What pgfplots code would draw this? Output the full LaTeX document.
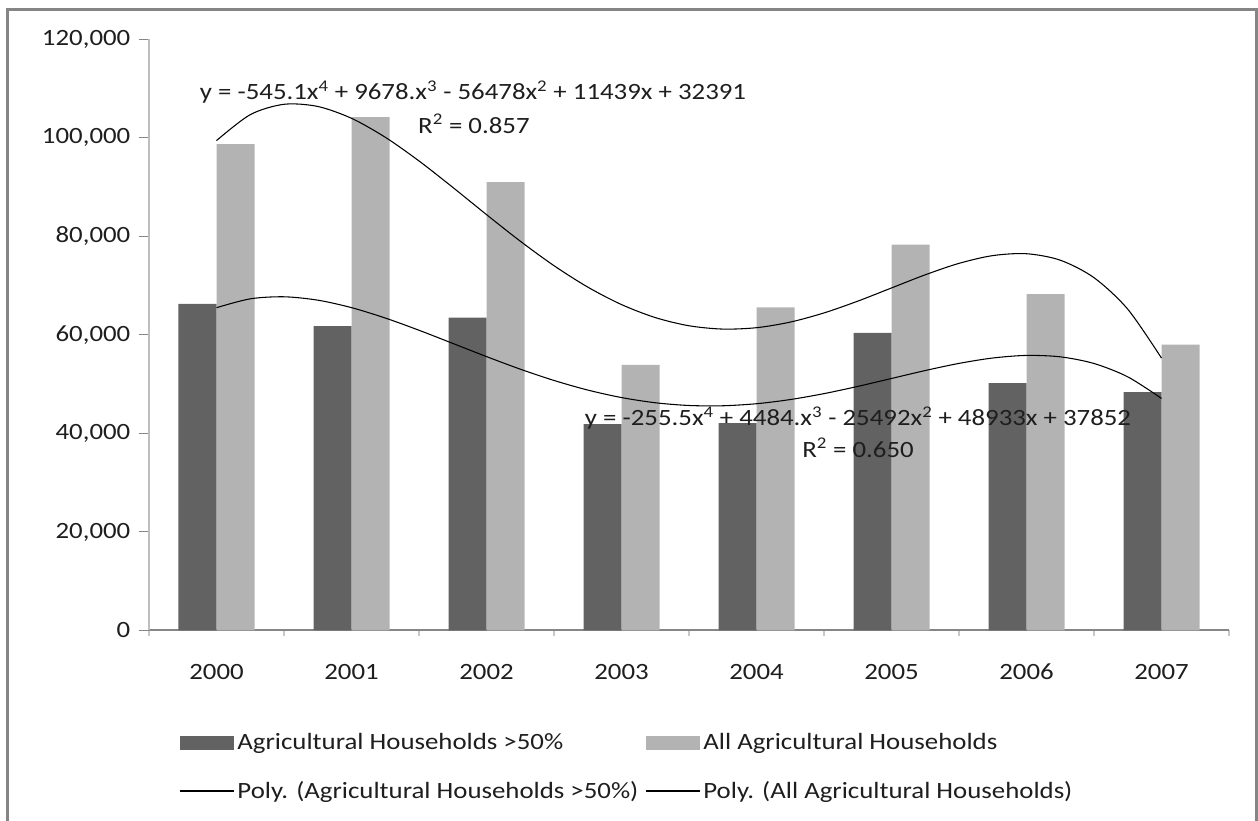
\documentclass[border=0pt]{standalone}
\usepackage{pgfplots}
\usepackage{pgfplotstable}
\pgfplotsset{compat=1.18}
\usepackage{fontspec}
\setmainfont{Carlito}[FakeStretch=1.15]
\definecolor{darkbar}{HTML}{626262}
\definecolor{lightbar}{HTML}{B3B3B3}
\definecolor{axisgray}{HTML}{868686}
\definecolor{yaxisgray}{HTML}{BEBEBE}
\definecolor{framegray}{HTML}{858585}
\definecolor{tickgray}{HTML}{C8C8C8}
\definecolor{txt}{HTML}{1E1E1E}

\pgfplotstableread{
x agri all
1 66300 98700
2 61800 104200
3 63500 91000
4 41900 53900
5 42100 65600
6 60400 78300
7 50200 68300
8 48400 58000
}\bardata

\begin{document}
\begin{tikzpicture}[font=\fontsize{17.5}{21}\selectfont]
\useasboundingbox (0,0) rectangle (943.5pt,615.75pt);
\draw[framegray, line width=2.25pt] (5.25pt,-3pt) -- (5.25pt,608.25pt) -- (942pt,608.25pt) -- (942pt,-3pt);
\begin{axis}[
  at={(111.75pt,142.875pt)}, anchor=south west,
  scale only axis, width=810pt, height=443.4pt,
  xmin=0.5, xmax=8.5, ymin=0, ymax=120000,
  clip=false,
  axis lines*=left,
  x axis line style={axisgray, line width=1.5pt},
  y axis line style={yaxisgray, line width=1.5pt},
  tick align=outside,
  xtick={1,...,8},
  xticklabels={2000,2001,2002,2003,2004,2005,2006,2007},
  major x tick style={draw=none},
  minor xtick={0.5,1.5,...,8.5},
  minor x tick style={tickgray, line width=1.5pt},
  minor tick length=4.5pt,
  ytick={0,20000,40000,60000,80000,100000,120000},
  yticklabels={0,{20,000},{40,000},{60,000},{80,000},{100,000},{120,000}},
  major tick length=7.5pt,
  major y tick style={axisgray, line width=0.75pt},
  scaled y ticks=false,
  tick label style={txt, font=\fontsize{17.5}{21}\selectfont},
  xticklabel style={yshift=-14pt},
  yticklabel style={xshift=-3pt},
  legend columns=2,
  legend cell align=left,
  legend style={at={(0.024,-0.165)}, anchor=north west, draw=none, fill=none,
    font=\fontsize{17.5}{21}\selectfont, text=txt, row sep=18pt,
    /tikz/every even column/.append style={column sep=3pt}},
]
\addplot[ybar, bar width=28.5pt, bar shift=-14.25pt, fill=darkbar, draw=none,
  legend image code/.code={\fill[darkbar] (0pt,-5.25pt) rectangle (40.5pt,5.25pt);}]
  table[x=x, y=agri] {\bardata};
\addlegendentry{Agricultural Households >50\%}
\addplot[ybar, bar width=28.5pt, bar shift=14.25pt, fill=lightbar, draw=none,
  legend image code/.code={\fill[lightbar] (0pt,-5.25pt) rectangle (40.5pt,5.25pt);}]
  table[x=x, y=all] {\bardata};
\addlegendentry{All Agricultural Households}
\addplot[black, line width=0.8pt, smooth, no marks,
  legend image code/.code={\draw[black, line width=1.2pt] (0pt,0pt) -- (40.5pt,0pt);}]
  coordinates {
  (1,65522) (1.25,67321) (1.5,67735) (1.75,67051) (2,65534) (2.25,63425) (2.5,60942) (2.75,58275)
  (3,55596) (3.25,53047) (3.5,50751) (3.75,48804) (4,47280) (4.25,46227) (4.5,45671) (4.75,45613)
  (5,46030) (5.25,46875) (5.5,48078) (5.75,49544) (6,51154) (6.25,52767) (6.5,54215) (6.75,55308)
  (7,55832) (7.25,55548) (7.5,54194) (7.75,51484) (8,47108)};
\addlegendentry{Poly. (Agricultural Households >50\%)}
\addplot[black, line width=0.8pt, smooth, no marks,
  legend image code/.code={\draw[black, line width=1.2pt] (0pt,0pt) -- (40.5pt,0pt);}]
  coordinates {
  (1,99437) (1.25,104704) (1.5,106806) (1.75,106367) (2,103963) (2.25,100119) (2.5,95307) (2.75,89949)
  (3,84415) (3.25,79026) (3.5,74049) (3.75,69703) (4,66153) (4.25,63516) (4.5,61854) (4.75,61181)
  (5,61459) (5.25,62598) (5.5,64459) (5.75,66849) (6,69527) (6.25,72199) (6.5,74520) (6.75,76094)
  (7,76475) (7.25,75164) (7.5,71612) (7.75,65219) (8,55293)};
\addlegendentry{Poly. (All Agricultural Households)}
\node[txt, font=\fontsize{17.5}{21}\selectfont] at (axis cs:2.9,109340)
  {y = -545.1x\textsuperscript{4} + 9678.x\textsuperscript{3} - 56478x\textsuperscript{2} + 11439x + 32391};
\node[txt, font=\fontsize{17.5}{21}\selectfont] at (axis cs:2.907,102840) {R\textsuperscript{2} = 0.857};
\node[txt, font=\fontsize{17.5}{21}\selectfont] at (axis cs:5.752,43150)
  {y = -255.5x\textsuperscript{4} + 4484.x\textsuperscript{3} - 25492x\textsuperscript{2} + 48933x + 37852};
\node[txt, font=\fontsize{17.5}{21}\selectfont] at (axis cs:5.752,37060) {R\textsuperscript{2} = 0.650};
\end{axis}
\end{tikzpicture}
\end{document}
